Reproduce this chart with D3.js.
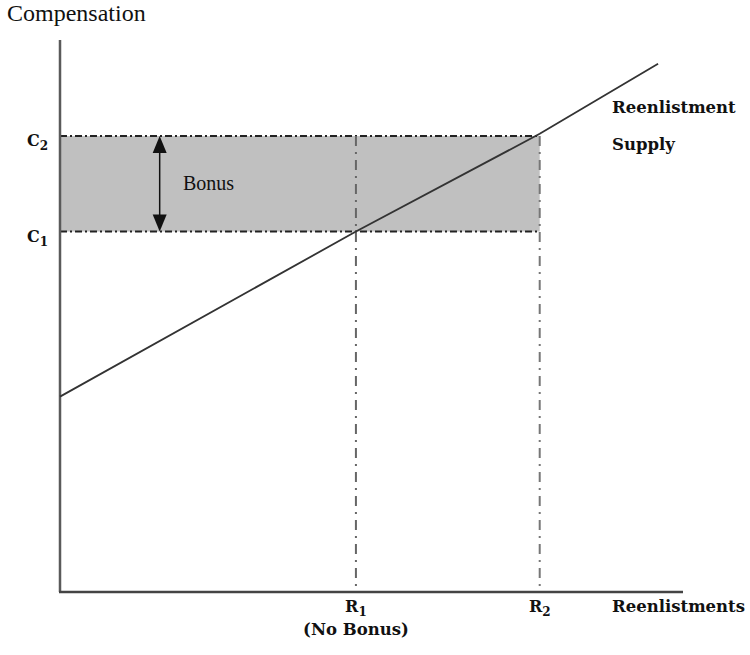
<!DOCTYPE html>
<html><head><meta charset="utf-8">
<script src="https://cdn.jsdelivr.net/npm/d3@7/dist/d3.min.js"></script>
<style>body{margin:0;background:#fff}svg{display:block}</style>
</head><body>
<svg id="c" width="750" height="655"></svg>
<script>
// Data (abstract units: reenlistments 0-100, compensation 0-100)
const supplyX = [0, 47.5, 77, 96];
const supplyY = [35.4, 65.3, 83.0, 95.7];
const compLevels = [{name:"C", sub:"1", value:65.3}, {name:"C", sub:"2", value:82.6}];
const reenlLevels = [{name:"R", sub:"1", value:47.5, note:"(No Bonus)"}, {name:"R", sub:"2", value:77}];
const axisTitles = {y:"Compensation", x:"Reenlistments"};
const curveLabel = ["Reenlistment", "Supply"];
const bonusLabel = "Bonus";

const svg = d3.select("#c");
const x = d3.scaleLinear().domain([0,100]).range([60,683]);
const y = d3.scaleLinear().domain([0,100]).range([592,40]);

const c1 = compLevels[0].value, c2 = compLevels[1].value;
const r1 = reenlLevels[0].value, r2 = reenlLevels[1].value;

// shaded bonus rectangle
svg.append("rect").attr("x", x(0)).attr("y", y(c2))
  .attr("width", x(r2)-x(0)).attr("height", y(c1)-y(c2))
  .attr("fill", "#c0c0c0");

// horizontal dash-dot lines
[c1, c2].forEach(v => {
  svg.append("line").attr("x1", x(0)).attr("x2", x(r2)).attr("y1", y(v)).attr("y2", y(v))
    .attr("stroke", "#222").attr("stroke-width", 2).attr("stroke-dasharray", "7,3,2,3");
});
// vertical dash-dot lines
svg.append("line").attr("x1", x(r1)).attr("x2", x(r1)).attr("y1", y(c2)).attr("y2", y(0))
  .attr("stroke", "#666").attr("stroke-width", 2).attr("stroke-dasharray", "10,6,2,6");
svg.append("line").attr("x1", x(r2)).attr("x2", x(r2)).attr("y1", y(c2)).attr("y2", y(0))
  .attr("stroke", "#777").attr("stroke-width", 2).attr("stroke-dasharray", "10,6,2,6");
svg.append("line").attr("x1", x(0)).attr("x2", x(0)).attr("y1", y(c2)).attr("y2", y(c1))
  .attr("stroke", "#777").attr("stroke-width", 2).attr("stroke-dasharray", "8,4,2,4");

// axes
const axisG = svg.append("g");
axisG.append("line").attr("x1", x(0)).attr("x2", x(0)).attr("y1", y(100)).attr("y2", y(0))
  .attr("stroke", "#5a5a5a").attr("stroke-width", 2.5);
axisG.append("line").attr("x1", x(0)-1).attr("x2", x(100)).attr("y1", y(0)).attr("y2", y(0))
  .attr("stroke", "#444").attr("stroke-width", 2.5);

// supply curve
const pts = supplyX.map((d,i)=>[d, supplyY[i]]);
svg.append("path").datum(pts)
  .attr("d", d3.line().x(d=>x(d[0])).y(d=>y(d[1])))
  .attr("fill","none").attr("stroke","#333").attr("stroke-width",1.8);

// bonus arrow
const ax = x(16);
svg.append("line").attr("x1", ax).attr("x2", ax).attr("y1", y(c2)+12).attr("y2", y(c1)-12)
  .attr("stroke","#111").attr("stroke-width",1.5);
svg.append("path").attr("d", `M${ax},${y(c2)} L${ax-7},${y(c2)+17} L${ax+7},${y(c2)+17} Z`).attr("fill","#111");
svg.append("path").attr("d", `M${ax},${y(c1)} L${ax-7},${y(c1)-17} L${ax+7},${y(c1)-17} Z`).attr("fill","#111");

const serif = "'Liberation Serif', 'Times New Roman', serif";
const bold = "'DejaVu Serif', serif";

svg.append("text").attr("x", 183).attr("y", y((c1+c2)/2)+6)
  .attr("font-family", serif).attr("font-size", 20).attr("fill","#111").text(bonusLabel);

svg.append("text").attr("x", 7).attr("y", 21)
  .attr("font-family", serif).attr("font-size", 24).attr("fill","#111").text(axisTitles.y);

function subLabel(g, d, xx, yy, anchor) {
  const t = g.append("text").attr("x", xx).attr("y", yy).attr("text-anchor", anchor)
    .attr("font-family", bold).attr("font-weight","bold").attr("font-size", 16).attr("fill","#111");
  t.append("tspan").text(d.name);
  t.append("tspan").attr("dy", 4).attr("font-size", 12).text(d.sub);
  return t;
}
compLevels.forEach(d => subLabel(svg, d, 27, y(d.value)+10, "start"));
reenlLevels.forEach(d => {
  subLabel(svg, d, x(d.value), 612, "middle");
  if (d.note) svg.append("text").attr("x", x(d.value)).attr("y", 635).attr("text-anchor","middle")
    .attr("font-family", bold).attr("font-weight","bold").attr("font-size", 16.5).attr("fill","#111").text(d.note);
});
svg.append("text").attr("x", 612).attr("y", 612)
  .attr("font-family", bold).attr("font-weight","bold").attr("font-size", 16.5).attr("fill","#111").text(axisTitles.x);
curveLabel.forEach((t,i) => svg.append("text").attr("x", 612).attr("y", 113 + i*37)
  .attr("font-family", bold).attr("font-weight","bold").attr("font-size", 16.5).attr("fill","#111").text(t));
</script>
</body></html>
